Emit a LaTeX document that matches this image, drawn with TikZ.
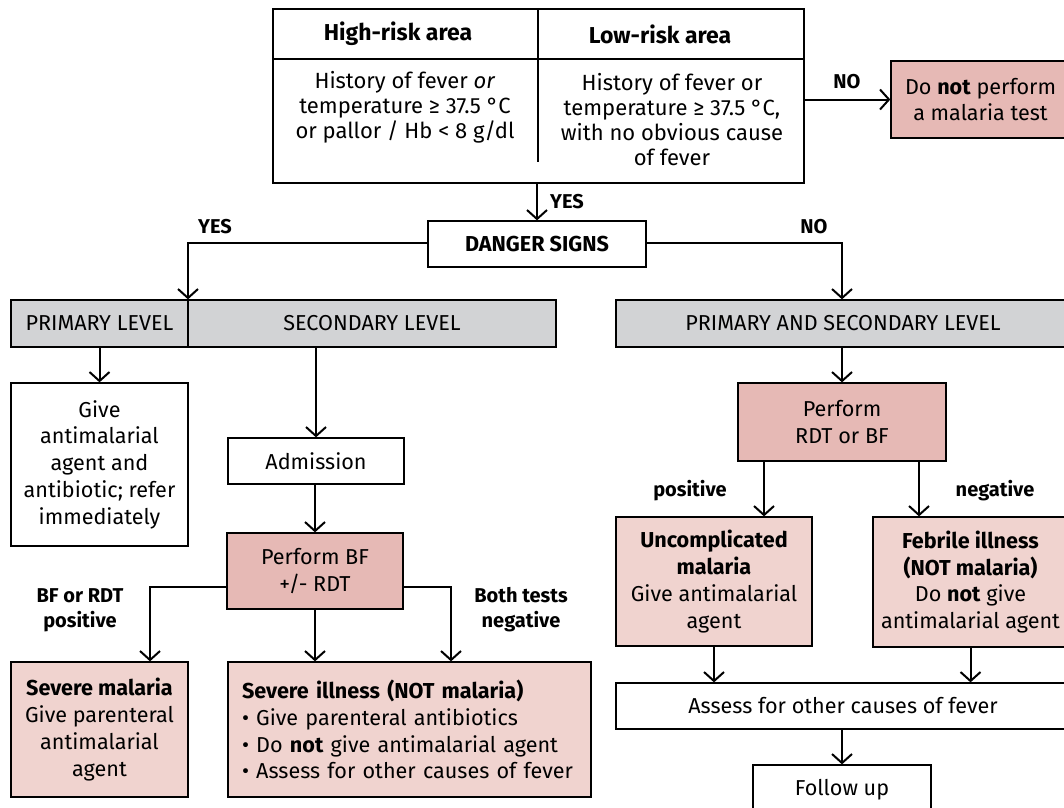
\documentclass[tikz,border=0pt]{standalone}
\usepackage{fontspec}
\setmainfont{Fira Sans}
\usetikzlibrary{arrows.meta}
\definecolor{pinkD}{HTML}{E6B9B5}
\definecolor{pinkL}{HTML}{F0D3CF}
\definecolor{greyB}{HTML}{D2D3D5}
\begin{document}
\begin{tikzpicture}[x=1pt,y=-1pt,
  box/.style={draw, line width=1.3pt, inner sep=0pt, align=center, font=\fontsize{21.6}{26.7}\selectfont},
  ttxt/.style={inner sep=0pt, align=center, font=\fontsize{22}{25}\selectfont},
  htxt/.style={inner sep=0pt, align=center, font=\bfseries\fontsize{23}{25}\selectfont},
  lbl/.style={inner sep=0pt, align=center, font=\bfseries\fontsize{20}{25}\selectfont},
  conn/.style={line width=2pt},
  arr/.style={conn, -{Straight Barb[length=9pt,width=20pt]}}]
\useasboundingbox (0,0) rectangle (1064,807);
\fill[white] (0,0) rectangle (1064,807);

% top table
\node[box, minimum width=531pt, minimum height=174pt] (table) at (538.5,96) {};
\draw[line width=1.3pt] (273,59) -- (804,59);
\draw[line width=1.3pt] (538,9) -- (538,162);
\node[htxt] (h1) at (398,34) {High-risk area};
\node[htxt] (h2) at (660,34) {Low-risk area};
\node[ttxt] (b1) at (405,107) {History of fever \textit{or}\\temperature ≥ 37.5 °C\\or pallor / Hb < 8 g/dl};
\node[ttxt] (b2) at (672,119.5) {History of fever or\\temperature ≥ 37.5 °C,\\with no obvious cause\\of fever};

\node[box, fill=pinkD, minimum width=179pt, minimum height=77pt] (notest) at (980.5,99.5) {Do \textbf{not} perform\\a malaria test};
\draw[arr] (table.east |- notest) -- (notest.west);
\node[lbl] (lno1) at (847,82) {NO};

\node[box, minimum width=218pt, minimum height=46pt] (danger) at (537,244) {\textbf{DANGER SIGNS}};
\draw[arr] (table.south -| danger) -- (danger.north);
\node[lbl] (lyes1) at (567,202) {YES};

% level bars
\node[box, fill=greyB, minimum width=177pt, minimum height=47pt] (prim) at (99.5,323.5) {PRIMARY LEVEL};
\node[box, fill=greyB, minimum width=368pt, minimum height=47pt] (sec) at (372,323.5) {SECONDARY LEVEL};
\node[box, fill=greyB, minimum width=454pt, minimum height=47pt] (both) at (843,323.5) {PRIMARY AND SECONDARY LEVEL};

\coordinate (yl) at (188,243);
\coordinate (nr) at (842,243);
\draw[arr] (danger.west |- yl) -- (yl) -- (yl |- prim.north);
\draw[arr] (danger.east |- nr) -- (nr) -- (nr |- both.north);
\node[lbl] (lyes2) at (215,227) {YES};
\node[lbl] (lno2) at (814,227) {NO};

% left branch
\node[box, minimum width=177pt, minimum height=163pt] (give) at (99.5,464.5) {Give\\antimalarial\\agent and\\antibiotic; refer\\immediately};
\draw[arr] (prim.south) -- (give.north);

\node[box, minimum width=176pt, minimum height=46pt] (adm) at (316,461) {Admission};
\draw[arr] (sec.south -| adm) -- (adm.north);

\node[box, fill=pinkD, minimum width=176pt, minimum height=76pt] (pbf) at (315,571) {Perform BF\\+/- RDT};
\draw[arr] (adm.south -| pbf) -- (pbf.north);

\node[box, fill=pinkL, minimum width=177pt, minimum height=135pt] (sm) at (99.5,729.5) {\textbf{Severe malaria}\\Give parenteral\\antimalarial\\agent};
\node[box, fill=pinkL, minimum width=363pt, minimum height=135pt, text width=335pt, inner xsep=14pt, align=left] (si) at (409.5,729.5) {\textbf{Severe illness (NOT malaria)}\\\textbullet\ Give parenteral antibiotics\\\textbullet\ Do \textbf{not} give antimalarial agent\\\textbullet\ Assess for other causes of fever};

\coordinate (bl) at (150,587);
\coordinate (br) at (451,587);
\draw[arr] (pbf.west |- bl) -- (bl) -- (bl |- sm.north);
\draw[arr] (pbf.south) -- (pbf.south |- si.north);
\draw[arr] (pbf.east |- br) -- (br) -- (br |- si.north);
\node[lbl] (lpos1) at (80,610) {BF or RDT\\positive};
\node[lbl] (lneg1) at (521,610) {Both tests\\negative};

% right branch
\node[box, fill=pinkD, minimum width=208pt, minimum height=78pt] (prdt) at (842,422) {Perform\\RDT or BF};
\draw[arr] (both.south -| prdt) -- (prdt.north);

\node[box, fill=pinkL, minimum width=196pt, minimum height=129pt] (unc) at (714,581.5) {\textbf{Uncomplicated}\\\textbf{malaria}\\Give antimalarial\\agent};
\node[box, fill=pinkL, minimum width=195pt, minimum height=130pt] (feb) at (970.5,582) {\textbf{Febrile illness}\\\textbf{(NOT malaria)}\\Do \textbf{not} give\\antimalarial agent};

\coordinate (pl) at (764,461);
\coordinate (pr) at (919,461);
\draw[arr] (pl) -- (pl |- unc.north);
\draw[arr] (pr) -- (pr |- feb.north);
\node[lbl] (lpos2) at (690,491) {positive};
\node[lbl] (lneg2) at (995,491) {negative};

\node[box, minimum width=454pt, minimum height=46pt] (assess) at (843,706) {Assess for other causes of fever};
\draw[arr] (unc.south) -- (unc.south |- assess.north);
\draw[arr] (feb.south) -- (feb.south |- assess.north);

\node[box, minimum width=178pt, minimum height=50pt] (fu) at (842,790) {Follow up};
\draw[arr] (assess.south -| fu) -- (fu.north);
\end{tikzpicture}
\end{document}
